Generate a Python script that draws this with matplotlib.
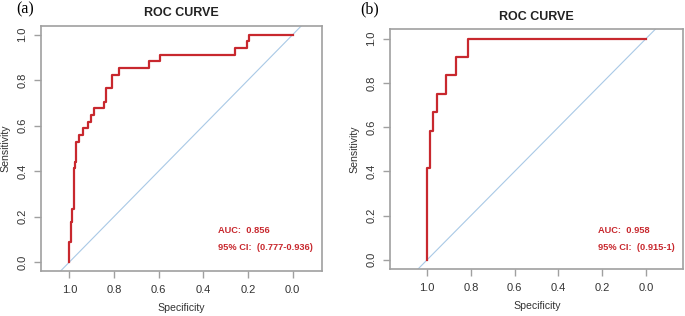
import matplotlib
matplotlib.use("Agg")
import matplotlib.pyplot as plt

plt.rcParams["font.family"] = ["Liberation Sans", "DejaVu Sans"]

# panel (a): ROC step points (specificity, sensitivity)
spec_a = [1.0, 1.0, 0.992, 0.992, 0.987, 0.987, 0.980, 0.980, 0.974, 0.974,
          0.969, 0.969, 0.955, 0.955, 0.937, 0.937, 0.915, 0.915, 0.904, 0.904,
          0.892, 0.892, 0.843, 0.843, 0.834, 0.834, 0.807, 0.807, 0.779, 0.779,
          0.644, 0.644, 0.595, 0.595, 0.258, 0.258, 0.203, 0.203, 0.195, 0.195, 0.0]
sens_a = [0.0, 3/34, 3/34, 6/34, 6/34, 8/34, 8/34, 14/34, 14/34, 15/34,
          15/34, 18/34, 18/34, 19/34, 19/34, 20/34, 20/34, 21/34, 21/34, 22/34,
          22/34, 23/34, 23/34, 24/34, 24/34, 26/34, 26/34, 28/34, 28/34, 29/34,
          29/34, 30/34, 30/34, 31/34, 31/34, 32/34, 32/34, 33/34, 33/34, 1.0, 1.0]

# panel (b)
spec_b = [1.0, 1.0, 0.985, 0.985, 0.973, 0.973, 0.956, 0.956, 0.912, 0.912,
          0.868, 0.868, 0.812, 0.812, 0.0]
sens_b = [0.0, 5/12, 5/12, 7/12, 7/12, 8/12, 8/12, 9/12, 9/12, 10/12,
          10/12, 11/12, 11/12, 1.0, 1.0]

auc_txt = ["AUC:  0.856", "AUC:  0.958"]
ci_txt = ["95% CI:  (0.777-0.936)", "95% CI:  (0.915-1)"]
ticks = [1.0, 0.8, 0.6, 0.4, 0.2, 0.0]

red = "#C8282E"
blue = "#A9C9E6"
grey = "#A0A0A0"
txt = "#333333"

fig = plt.figure(figsize=(6.85, 3.16), dpi=100)
ax_a = fig.add_axes([0.0599, 0.1434, 0.4101, 0.7743])
ax_b = fig.add_axes([0.5698, 0.1497, 0.4277, 0.7576])

panels = [
    (ax_a, spec_a, sens_a, (1.127, -0.131), (-0.038, 1.038), (0.333, 0.138, 0.063)),
    (ax_b, spec_b, sens_b, (1.168, -0.170), (-0.040, 1.042), (0.220, 0.132, 0.056)),
]

for i, (ax, sp, se, xl, yl, tp) in enumerate(panels):
    ax.plot([2, -1], [-1, 2], color=blue, lw=0.8, zorder=1)
    ax.plot(sp, se, color=red, lw=1.6, zorder=2)
    ax.set_xlim(*xl)
    ax.set_ylim(*yl)
    ax.set_xticks(ticks)
    ax.set_xticklabels(["%.1f" % t for t in ticks])
    ax.set_yticks(ticks[::-1])
    ax.set_yticklabels(["%.1f" % t for t in ticks[::-1]], rotation=90, va="center")
    for s in ax.spines.values():
        s.set_color(grey)
        s.set_linewidth(1.2)
    ax.tick_params(colors=grey, labelcolor=txt, length=5, width=1, labelsize=8, pad=5)
    ax.set_xlabel("Specificity", fontsize=7.6, color=txt, labelpad=6)
    ax.set_ylabel("Sensitivity", fontsize=7.6, color=txt, labelpad=5)
    ax.set_title("ROC CURVE", fontsize=9, fontweight="bold", color="#222222", pad=7)
    ax.text(tp[0], tp[1], auc_txt[i], color=red, fontsize=6.7, fontweight="bold", va="center")
    ax.text(tp[0], tp[2], ci_txt[i], color=red, fontsize=6.7, fontweight="bold", va="center")

fig.text(16 / 685, 1 - 9 / 316, "(a)", family="Liberation Serif", fontsize=11.5, va="center")
fig.text(360 / 685, 1 - 9 / 316, "(b)", family="Liberation Serif", fontsize=11.5, va="center")

fig.savefig("out.png", dpi=100)
